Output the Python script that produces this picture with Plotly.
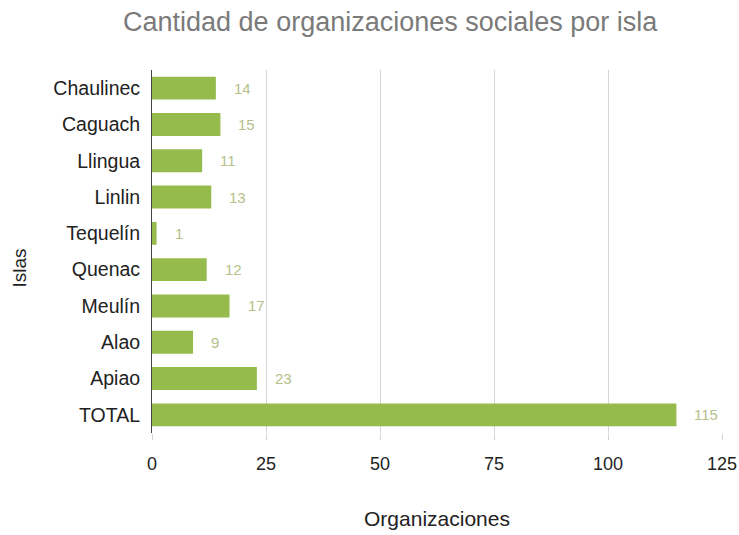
import plotly.graph_objects as go

islas = ["Chaulinec", "Caguach", "Llingua", "Linlin", "Tequelín", "Quenac", "Meulín", "Alao", "Apiao", "TOTAL"]
organizaciones = [14, 15, 11, 13, 1, 12, 17, 9, 23, 115]
x_ticks = [0, 25, 50, 75, 100, 125]

bar_color = "#94bb4c"
label_color = "#b5c189"
FONT = "Liberation Sans, Arial, sans-serif"

fig = go.Figure()
fig.add_trace(go.Bar(
    y=islas, x=organizaciones, orientation="h",
    marker=dict(color=bar_color, line=dict(width=0)),
    hoverinfo="x+y",
))

for isla, v in zip(islas, organizaciones):
    fig.add_annotation(x=v, y=isla, text=str(v), showarrow=False,
                       xanchor="left", xshift=16,
                       font=dict(family=FONT, size=15, color=label_color))

# y-axis title, placed a bit below the plot centre as in the reference
fig.add_annotation(text="Islas", xref="paper", yref="paper", x=-0.232, y=0.455,
                   textangle=-90, showarrow=False, xanchor="center", yanchor="middle",
                   font=dict(family=FONT, size=19, color="#222222"))

fig.update_layout(
    width=739, height=535,
    margin=dict(l=152, r=17, t=70, b=102),
    paper_bgcolor="white", plot_bgcolor="white",
    bargap=0.37,
    showlegend=False,
    font=dict(family=FONT, color="#222222"),
    title=dict(text="Cantidad de organizaciones sociales por isla",
               x=0.528, xanchor="center", y=0.959, yanchor="middle",
               font=dict(size=27, color="#7a7a7a")),
    xaxis=dict(range=[0, 125], tickvals=x_ticks, showgrid=True, gridcolor="#d4d4d4", gridwidth=1,
               zeroline=False, ticks="outside", ticklen=6, tickcolor="#d4d4d4",
               ticklabelstandoff=8, automargin=False,
               tickfont=dict(size=18, color="#222222"),
               title=dict(text="Organizaciones", font=dict(size=21, color="#222222"), standoff=38)),
    yaxis=dict(autorange="reversed", showline=True, linecolor="#444444", linewidth=1,
               ticks="", ticklabelstandoff=7, automargin=False,
               tickfont=dict(size=19.5, color="#222222")),
)

fig.write_html("out.html", config={"displayModeBar": False},
               post_script="document.body.style.margin='0';document.body.style.overflow='hidden';")
